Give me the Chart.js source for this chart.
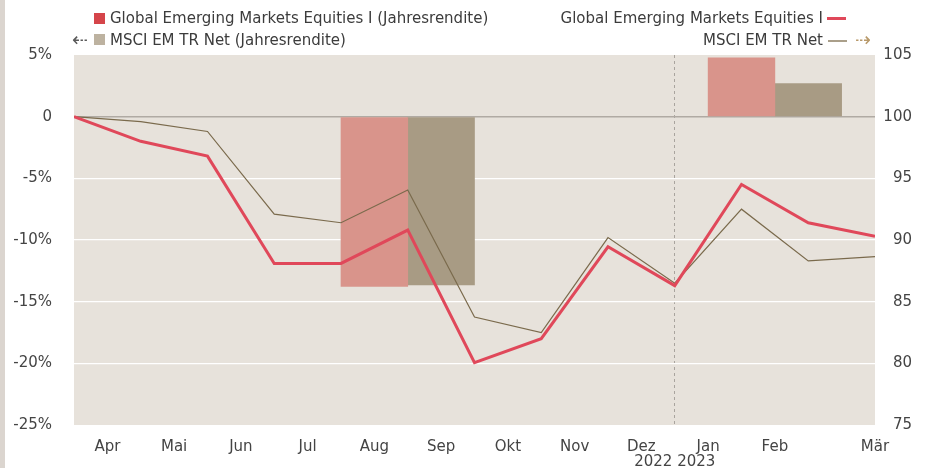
<!DOCTYPE html>
<html>
<head>
<meta charset="utf-8">
<script src="https://cdn.jsdelivr.net/npm/chart.js@4/dist/chart.umd.min.js"></script>
<style>
  html, body { margin: 0; padding: 0; background: #ffffff; }
  #wrap { position: relative; width: 927px; height: 468px; overflow: hidden; font-family: "DejaVu Sans", Verdana, sans-serif; color: #3c3c3c; }
  #strip { position: absolute; left: 0; top: 0; width: 5px; height: 468px; background: #dbd5cf; }
  #chart { position: absolute; left: 0; top: 0; }
  .lg { position: absolute; font-size: 15px; line-height: 18px; white-space: nowrap; }
  .sq { position: absolute; width: 11px; height: 11px; }
  .ln { position: absolute; width: 19px; }
  .arr { position: absolute; font-size: 19px; line-height: 20px; }
</style>
</head>
<body>
<div id="wrap">
  <canvas id="chart" width="927" height="468"></canvas>
  <div id="strip"></div>
  <div class="sq" style="left:94px;top:13px;background:#d5454a;"></div>
  <div class="lg" style="left:110px;top:9px;">Global Emerging Markets Equities I (Jahresrendite)</div>
  <div class="arr" style="left:72px;top:29px;color:#5a5a5a;">&#8672;</div>
  <div class="sq" style="left:94px;top:34px;background:#bdb2a0;"></div>
  <div class="lg" style="left:110px;top:31px;">MSCI EM TR Net (Jahresrendite)</div>
  <div class="lg" style="right:104px;top:9px;">Global Emerging Markets Equities I</div>
  <div class="ln" style="left:827px;top:17px;height:3px;background:#e0485a;"></div>
  <div class="lg" style="right:104px;top:31px;">MSCI EM TR Net</div>
  <div class="ln" style="left:828px;top:40px;height:1.5px;background:#aa9f8a;"></div>
  <div class="arr" style="left:855px;top:29px;color:#b8996a;">&#8674;</div>
</div>
<script>
// ---- data ----
const monthLabels = ['Apr', 'Mai', 'Jun', 'Jul', 'Aug', 'Sep', 'Okt', 'Nov', 'Dez', 'Jan', 'Feb', 'Mär'];
const monthTickPos = [0.5, 1.5, 2.5, 3.5, 4.5, 5.5, 6.5, 7.5, 8.5, 9.5, 10.5, 12];
const yearLabel = '2022 2023';
const yearBoundary = 9;            // 31.12.2022 (month-end index)
const monthEnds = [0, 1, 2, 3, 4, 5, 6, 7, 8, 9, 10, 11, 12]; // 31.03.2022 ... 31.03.2023
const gemIndex  = [100, 98.0, 96.8, 88.1, 88.1, 90.8, 80.05, 82.0, 89.45, 86.3, 94.5, 91.4, 90.3];
const msciIndex = [100, 99.6, 98.8, 92.1, 91.4, 94.05, 83.75, 82.5, 90.2, 86.5, 92.5, 88.3, 88.65];
const annualYears   = ['2022', '2023'];
const annualCenters = [5, 10.5];
const gemAnnual  = [-13.76, 4.78];
const msciAnnual = [-13.65, 2.68];
const leftTicks  = [-25, -20, -15, -10, -5, 0, 5];
const rightTicks = [75, 80, 85, 90, 95, 100, 105];

const FONT = { family: '"DejaVu Sans", Verdana, sans-serif', size: 15 };
const TXT = '#444444';

const gemLine  = monthEnds.map((x, i) => ({ x, y: gemIndex[i] }));
const msciLine = monthEnds.map((x, i) => ({ x, y: msciIndex[i] }));
const gemBars  = annualCenters.map((c, i) => ({ x: c - 0.5, y: gemAnnual[i] }));
const msciBars = annualCenters.map((c, i) => ({ x: c + 0.5, y: msciAnnual[i] }));

const xTickValues = monthTickPos.concat([yearBoundary]).sort((a, b) => a - b);

new Chart(document.getElementById('chart'), {
  type: 'line',
  data: {
    datasets: [
      { type: 'line', label: 'Global Emerging Markets Equities I', data: gemLine, xAxisID: 'x', yAxisID: 'y2',
        borderColor: '#e0485a', borderWidth: 3, pointRadius: 0, tension: 0, order: 0 },
      { type: 'line', label: 'MSCI EM TR Net', data: msciLine, xAxisID: 'x', yAxisID: 'y2',
        borderColor: '#7a6a4c', borderWidth: 1.2, pointRadius: 0, tension: 0, order: 1 },
      { type: 'bar', label: 'Global Emerging Markets Equities I (Jahresrendite)', data: gemBars, xAxisID: 'xb', yAxisID: 'y',
        backgroundColor: '#d9948b', grouped: false, barPercentage: 1, categoryPercentage: 1, order: 2 },
      { type: 'bar', label: 'MSCI EM TR Net (Jahresrendite)', data: msciBars, xAxisID: 'xb', yAxisID: 'y',
        backgroundColor: '#a89b84', grouped: false, barPercentage: 1, categoryPercentage: 1, order: 3 }
    ]
  },
  options: {
    responsive: false,
    animation: false,
    events: [],
    layout: { padding: { top: 55, left: 0, right: 15, bottom: 0 } },
    plugins: {
      legend: { display: false },
      tooltip: { enabled: false },
      plotBg: { color: '#e7e2db' }
    },
    scales: {
      x: {
        type: 'linear', min: 0, max: 12, offset: false,
        afterBuildTicks: (ax) => { ax.ticks = xTickValues.map(v => ({ value: v })); },
        afterFit: (ax) => { ax.height = 43; },
        ticks: {
          autoSkip: false, maxRotation: 0, minRotation: 0, padding: 15,
          color: TXT, font: { ...FONT, lineHeight: 1.0 },
          callback: (v) => {
            if (v === yearBoundary) return ['', yearLabel];
            const i = monthTickPos.indexOf(v);
            return i >= 0 ? monthLabels[i] : '';
          }
        },
        grid: {
          offset: false, drawTicks: false, lineWidth: 1,
          color: (ctx) => (ctx.tick && ctx.tick.value === yearBoundary) ? '#a9a49e' : 'rgba(0,0,0,0)'
        },
        border: { display: false, dash: [3, 3] }
      },
      xb: {
        type: 'linear', min: 0, max: 12, offset: false, display: false,
        grid: { offset: false }
      },
      y: {
        position: 'left', min: -25, max: 5,
        afterBuildTicks: (ax) => { ax.ticks = leftTicks.map(v => ({ value: v })); },
        afterFit: (ax) => { ax.width = 74; },
        ticks: { padding: 22, color: TXT, font: FONT, callback: (v) => v === 0 ? '0' : v + '%' },
        grid: {
          drawTicks: false,
          color: (ctx) => {
            const v = ctx.tick && ctx.tick.value;
            if (v === 0) return '#b0aaa3';
            if (v === 5 || v === -25) return 'rgba(0,0,0,0)';
            return '#ffffff';
          },
          lineWidth: (ctx) => (ctx.tick && ctx.tick.value === 0) ? 1.6 : 1.2
        },
        border: { display: false }
      },
      y2: {
        position: 'right', min: 75, max: 105,
        afterBuildTicks: (ax) => { ax.ticks = rightTicks.map(v => ({ value: v })); },
        afterFit: (ax) => { ax.width = 37; },
        ticks: { padding: 8, crossAlign: 'far', color: TXT, font: FONT },
        grid: { display: false, drawTicks: false },
        border: { display: false }
      }
    }
  },
  plugins: [{
    id: 'plotBg',
    beforeDraw(chart, args, opts) {
      const { ctx, chartArea: a } = chart;
      ctx.save();
      ctx.fillStyle = opts.color;
      ctx.fillRect(a.left, a.top, a.right - a.left, a.bottom - a.top);
      ctx.restore();
    }
  }]
});
</script>
</body>
</html>
